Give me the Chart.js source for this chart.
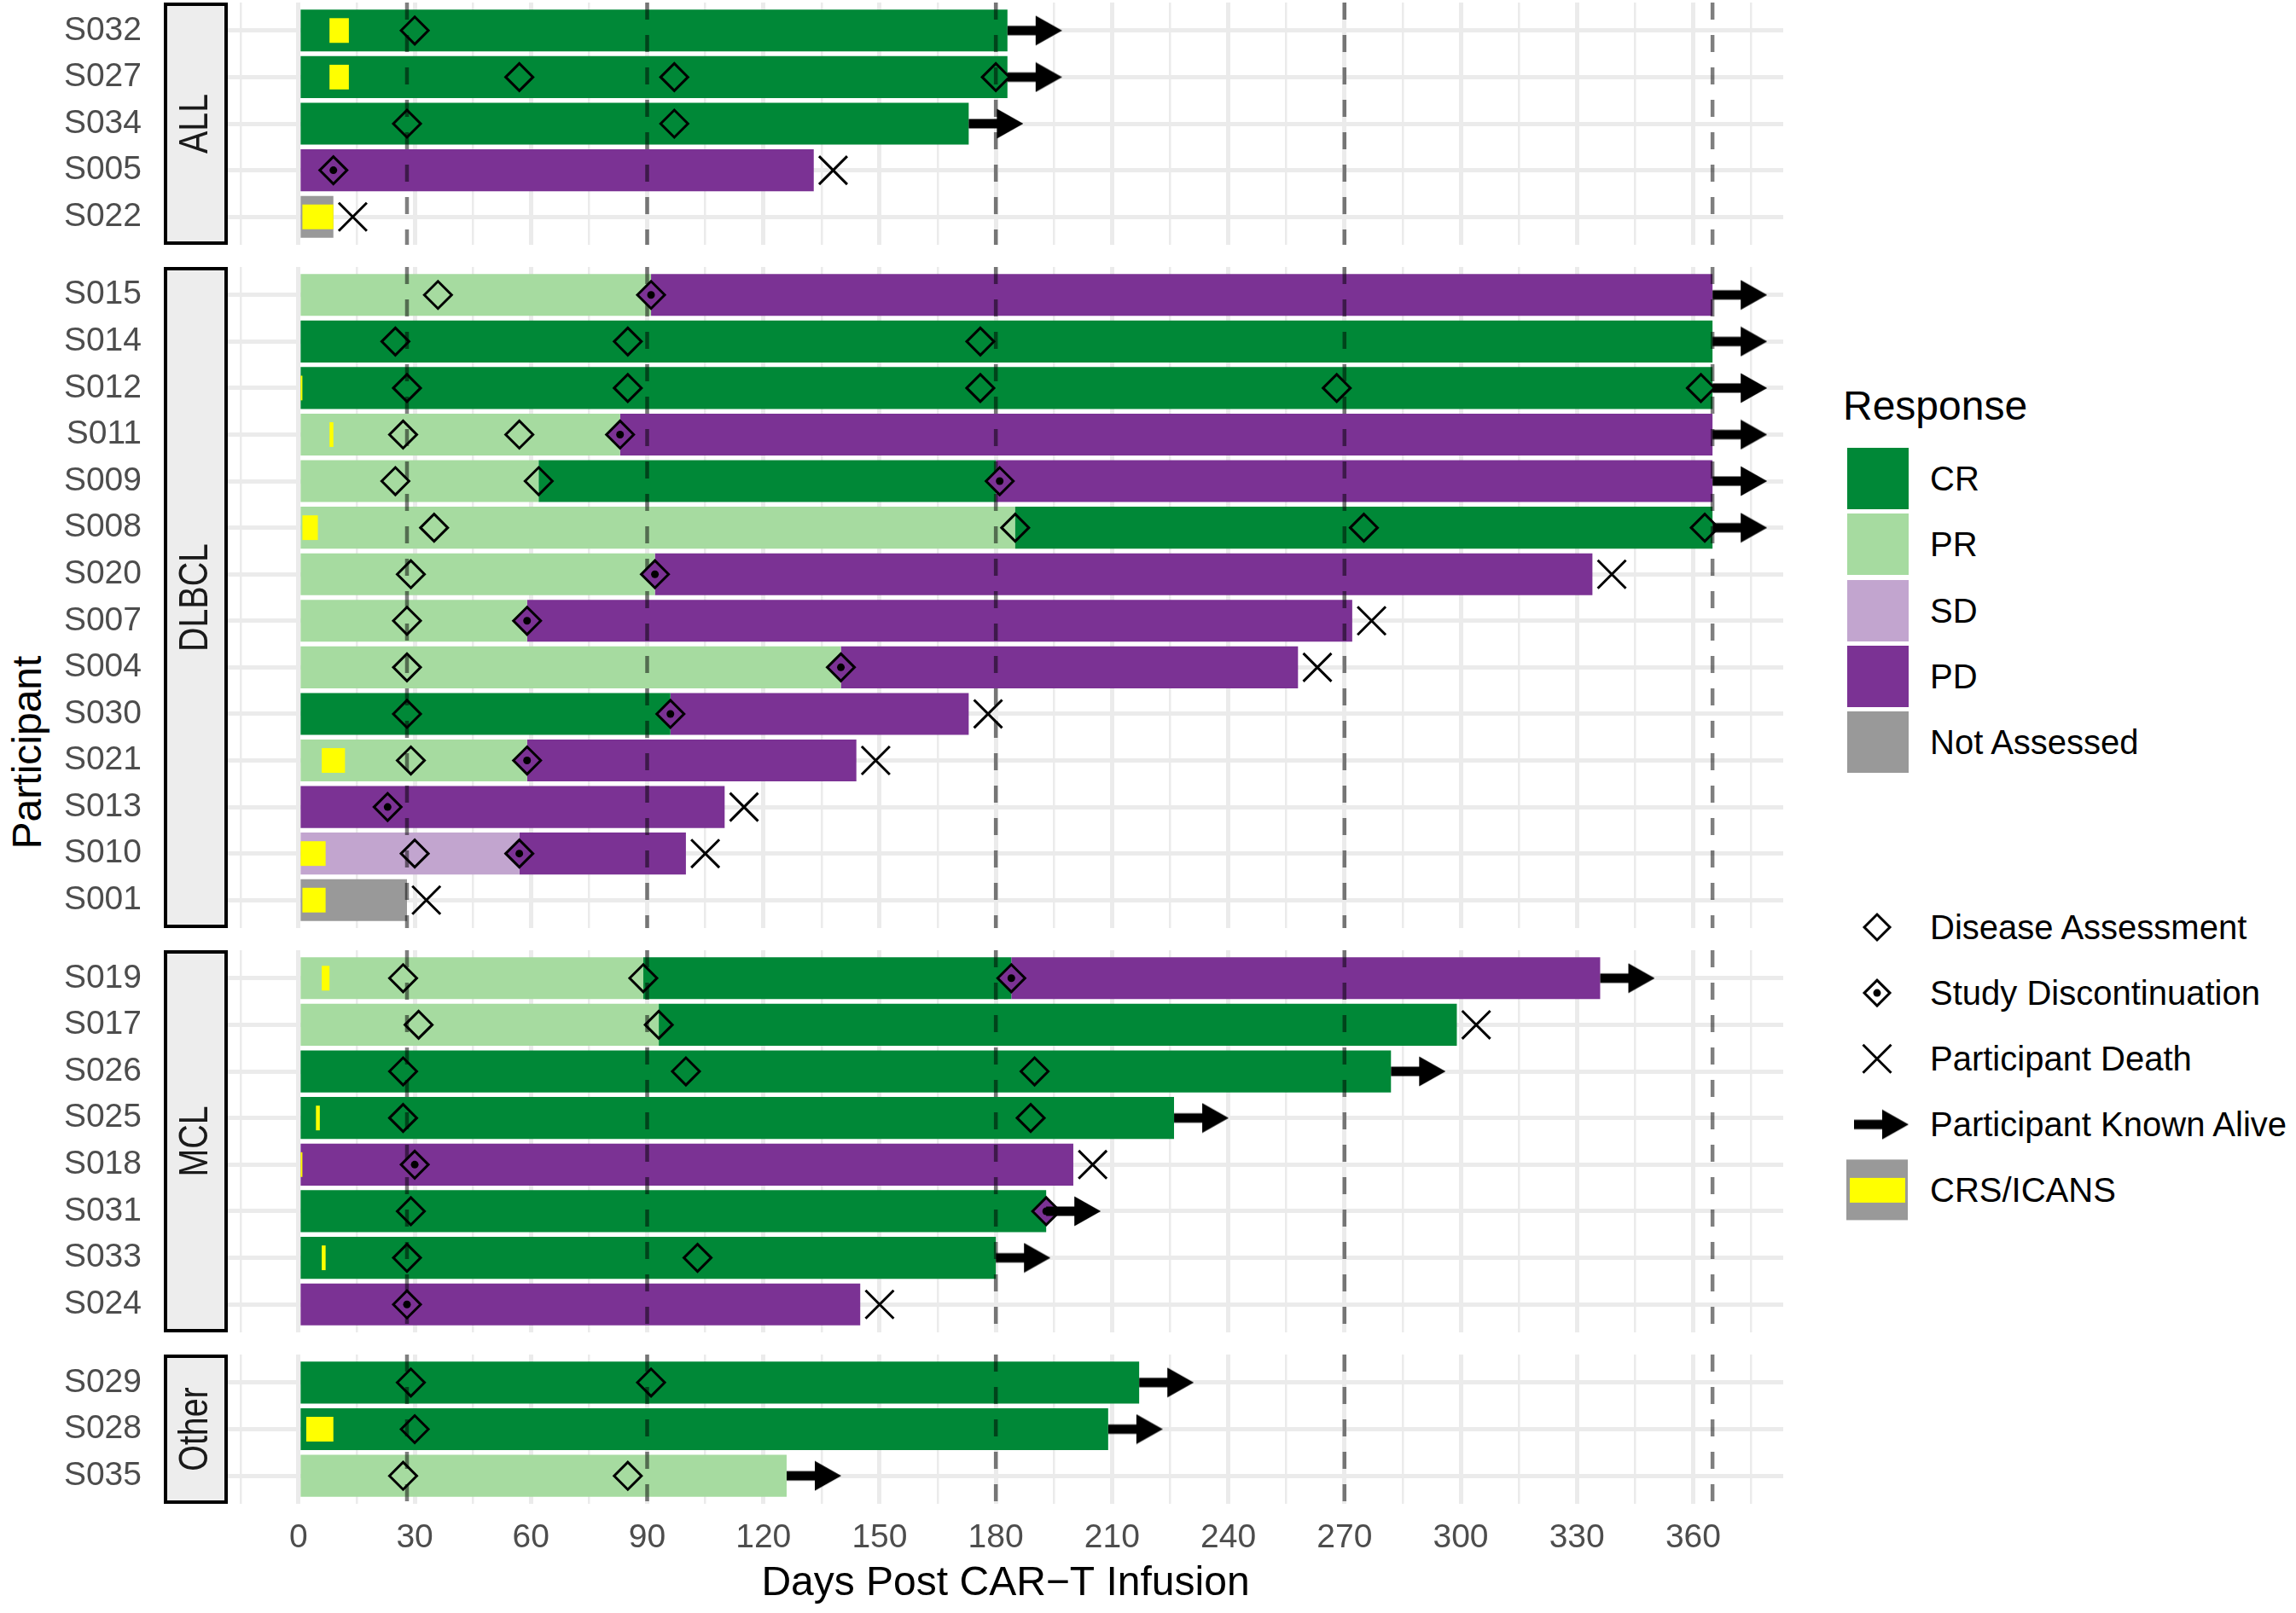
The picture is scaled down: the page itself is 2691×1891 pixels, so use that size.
<!DOCTYPE html>
<html lang="en">
<head>
<meta charset="UTF-8">
<title>Swimmer plot – days post CAR-T infusion</title>
<script src="https://cdn.jsdelivr.net/npm/chart.js"></script>
<style>
  html, body { margin: 0; padding: 0; background: #fff; }
  body {
    width: 2691px; height: 1891px; position: relative; overflow: hidden;
    font-family: 'Liberation Sans', Arial, Helvetica, sans-serif;
  }
  .panel { position: absolute; left: 0; width: 2090px; }
  .ytitle {
    position: absolute; left: -118px; top: 852px; width: 300px; height: 60px;
    line-height: 60px; text-align: center; font-size: 48px; color: #000;
    transform: rotate(-90deg); white-space: nowrap;
  }
  .lg-title { position: absolute; left: 2160px; top: 440px; height: 72px; line-height: 72px; font-size: 48px; color: #000; }
  .lg-label { position: absolute; left: 2262px; height: 72px; line-height: 72px; font-size: 40px; color: #000; white-space: nowrap; }
  #legendIcons { position: absolute; left: 2140px; top: 500px; }
</style>
</head>
<body>
<div class="ytitle">Participant</div>
<div class="lg-title">Response</div>
<canvas id="legendIcons" width="120" height="950"></canvas>

<script>
  // ---- data (days post infusion) ----
  const cohorts = ['ALL', 'DLBCL', 'MCL', 'Other'];
  const allRows = ['S032', 'S027', 'S034', 'S005', 'S022'];
  const dlbclRows = ['S015', 'S014', 'S012', 'S011', 'S009', 'S008', 'S020', 'S007', 'S004', 'S030', 'S021', 'S013', 'S010', 'S001'];
  const mclRows = ['S019', 'S017', 'S026', 'S025', 'S018', 'S031', 'S033', 'S024'];
  const otherRows = ['S029', 'S028', 'S035'];

  const responseTypes = ['CR', 'PR', 'SD', 'PD', 'Not Assessed'];
  const responseColors = ['#008837', '#A6DBA0', '#C2A5CF', '#7B3294', '#999999'];

  // [participant, start, end]
  const crSegments = [
    ['S032', 0, 183], ['S027', 0, 183], ['S034', 0, 173],
    ['S014', 0, 365], ['S012', 0, 365], ['S009', 62, 180], ['S008', 185, 365], ['S030', 0, 96],
    ['S019', 89, 184], ['S017', 93, 299], ['S026', 0, 282], ['S025', 0, 226], ['S031', 0, 193], ['S033', 0, 180],
    ['S029', 0, 217], ['S028', 0, 209]
  ];
  const prSegments = [
    ['S015', 0, 91], ['S011', 0, 83], ['S009', 0, 62], ['S008', 0, 185], ['S020', 0, 92],
    ['S007', 0, 59], ['S004', 0, 140], ['S021', 0, 59],
    ['S019', 0, 89], ['S017', 0, 93], ['S035', 0, 126]
  ];
  const sdSegments = [['S010', 0, 57]];
  const pdSegments = [
    ['S005', 0, 133],
    ['S015', 91, 365], ['S011', 83, 365], ['S009', 180, 365], ['S020', 92, 334], ['S007', 59, 272],
    ['S004', 140, 258], ['S030', 96, 173], ['S021', 59, 144], ['S013', 0, 110], ['S010', 57, 100],
    ['S019', 184, 336], ['S018', 0, 200], ['S024', 0, 145]
  ];
  const naSegments = [['S022', 0, 9], ['S001', 0, 28]];
  const crsSegments = [
    ['S032', 8, 13], ['S027', 8, 13], ['S022', 1, 9],
    ['S012', 0, 1], ['S011', 8, 9], ['S008', 1, 5], ['S021', 6, 12], ['S010', 0, 7], ['S001', 1, 7],
    ['S019', 6, 8], ['S025', 4.5, 5.5], ['S018', 0, 1], ['S033', 6, 7],
    ['S028', 2, 9]
  ];

  // [participant, day]
  const assessments = [
    ['S032', 30], ['S027', 57], ['S027', 97], ['S027', 180], ['S034', 28], ['S034', 97],
    ['S015', 36], ['S014', 25], ['S014', 85], ['S014', 176],
    ['S012', 28], ['S012', 85], ['S012', 176], ['S012', 268], ['S012', 362],
    ['S011', 27], ['S011', 57], ['S009', 25], ['S009', 62],
    ['S008', 35], ['S008', 185], ['S008', 275], ['S008', 363],
    ['S020', 29], ['S007', 28], ['S004', 28], ['S030', 28], ['S021', 29], ['S010', 30],
    ['S019', 27], ['S019', 89], ['S017', 31], ['S017', 93], ['S026', 27], ['S026', 100], ['S026', 190],
    ['S025', 27], ['S025', 189], ['S031', 29], ['S033', 28], ['S033', 103],
    ['S029', 29], ['S029', 91], ['S028', 30], ['S035', 27], ['S035', 85]
  ];
  const discontinuations = [
    ['S005', 9], ['S015', 91], ['S011', 83], ['S009', 181], ['S020', 92], ['S007', 59], ['S004', 140],
    ['S030', 96], ['S021', 59], ['S013', 23], ['S010', 57],
    ['S019', 184], ['S018', 30], ['S031', 193], ['S024', 28]
  ];
  const deaths = [
    ['S005', 138], ['S022', 14],
    ['S020', 339], ['S007', 277], ['S004', 263], ['S030', 178], ['S021', 149], ['S013', 115], ['S010', 105], ['S001', 33],
    ['S017', 304], ['S018', 205], ['S024', 150]
  ];
  const knownAlive = [
    ['S032', 183], ['S027', 183], ['S034', 173],
    ['S015', 365], ['S014', 365], ['S012', 365], ['S011', 365], ['S009', 365], ['S008', 365],
    ['S019', 336], ['S026', 282], ['S025', 226], ['S031', 193], ['S033', 180],
    ['S029', 217], ['S028', 209], ['S035', 126]
  ];

  const milestoneDays = [28, 90, 180, 270, 365];
  const dayTicks = [0, 30, 60, 90, 120, 150, 180, 210, 240, 270, 300, 330, 360];
  const markerLabels = ['Disease Assessment', 'Study Discontinuation', 'Participant Death', 'Participant Known Alive', 'CRS/ICANS'];

  // ---- layout ----
  const cohortRows = [allRows, dlbclRows, mclRows, otherRows];
  const segLists = [crSegments, prSegments, sdSegments, pdSegments, naSegments];
  const rowUnit = 54.6, panelGap = 26, axisHeight = 128, axisWidth = 267;
  const xMin = -18.25, xMax = 383.25;
  const gridDays = [];
  for (let d = -15; d <= 375; d += 15) gridDays.push(d);

  Chart.defaults.font.family = "'Liberation Sans', Arial, Helvetica, sans-serif";

  function makeArrow() {
    const c = document.createElement('canvas');
    c.width = 128; c.height = 36;
    const g = c.getContext('2d');
    g.fillStyle = '#000';
    g.fillRect(64, 12.5, 34, 11);
    g.beginPath();
    g.moveTo(97, 0.5); g.lineTo(128, 18); g.lineTo(97, 35.5);
    g.closePath(); g.fill();
    return c;
  }
  const arrowImg = makeArrow();

  function stripPlugin(label) {
    return {
      id: 'strip',
      afterDraw(chart) {
        const { ctx, chartArea } = chart;
        const x1 = chartArea.left - 2, x0 = x1 - 71;
        const t = chartArea.top + 2, h = chartArea.bottom - chartArea.top - 4;
        ctx.save();
        ctx.fillStyle = '#EDEDED';
        ctx.fillRect(x0, t, x1 - x0, h);
        ctx.strokeStyle = '#000';
        ctx.lineWidth = 4;
        ctx.strokeRect(x0, t, x1 - x0, h);
        ctx.translate((x0 + x1) / 2, (chartArea.top + chartArea.bottom) / 2);
        ctx.rotate(-Math.PI / 2);
        ctx.scale(0.82, 1);
        ctx.fillStyle = '#1A1A1A';
        ctx.font = "48px 'Liberation Sans', Arial, sans-serif";
        ctx.textAlign = 'center';
        ctx.textBaseline = 'middle';
        ctx.fillText(label, 0, 0);
        ctx.restore();
      }
    };
  }

  function buildConfig(idx, rows, last) {
    const n = rows.length;
    const mine = list => list.filter(p => rows.includes(p[0]));
    const bars = list => mine(list).map(s => ({ y: rows.indexOf(s[0]), x: [s[1], s[2]] }));
    const pts = list => mine(list).map(p => ({ x: p[1], y: rows.indexOf(p[0]) }));
    const markers = (label, list, extra) => Object.assign({
      type: 'line', label, data: pts(list), showLine: false,
      pointBackgroundColor: 'rgba(0,0,0,0)', pointBorderColor: '#000', pointBorderWidth: 3
    }, extra);

    const datasets = [];
    responseTypes.forEach((r, k) => {
      datasets.push({
        type: 'bar', label: r, data: bars(segLists[k]),
        backgroundColor: responseColors[k], borderWidth: 0,
        barPercentage: 0.9, categoryPercentage: 1, grouped: false, order: 10
      });
    });
    datasets.push({
      type: 'bar', label: 'CRS/ICANS', data: bars(crsSegments),
      backgroundColor: '#FFFF00', borderWidth: 0,
      barPercentage: 0.53, categoryPercentage: 1, grouped: false, order: 9
    });
    milestoneDays.forEach(d => {
      datasets.push({
        type: 'line', label: 'Day ' + d, data: [{ x: d, y: -0.6 }, { x: d, y: n - 0.4 }],
        borderColor: 'rgba(0,0,0,0.5)', borderWidth: 4.5, borderDash: [20, 18],
        pointRadius: 0, fill: false, order: 8
      });
    });
    datasets.push(markers('Disease Assessment', assessments, { pointStyle: 'rectRot', pointRadius: 16, order: 5 }));
    datasets.push(markers('Study Discontinuation', discontinuations, {
      pointStyle: 'rectRot', pointRadius: 16, pointBackgroundColor: '#7B3294', order: 4
    }));
    datasets.push(markers('Discontinuation dot', discontinuations, {
      pointStyle: 'circle', pointRadius: 4.5, pointBorderWidth: 0, pointBackgroundColor: '#000', order: 3
    }));
    datasets.push(markers('Participant Death', deaths, { pointStyle: 'crossRot', pointRadius: 23.3, order: 2 }));
    datasets.push(markers('Participant Known Alive', knownAlive, {
      pointStyle: arrowImg, pointRadius: 1, pointBorderWidth: 0, order: 1
    }));

    return {
      type: 'bar',
      data: { datasets },
      options: {
        indexAxis: 'y',
        responsive: true,
        maintainAspectRatio: false,
        animation: false,
        events: [],
        layout: { padding: 0, autoPadding: false },
        plugins: { legend: { display: false }, tooltip: { enabled: false } },
        scales: {
          x: {
            type: 'linear', min: xMin, max: xMax,
            afterBuildTicks: s => { s.ticks = gridDays.map(v => ({ value: v })); },
            afterFit: s => { s.height = last ? axisHeight : 0; s.paddingLeft = 0; s.paddingRight = 0; },
            ticks: {
              display: last, autoSkip: false, maxRotation: 0, minRotation: 0, padding: 17,
              color: '#4D4D4D', font: { size: 39 },
              callback: v => dayTicks.includes(v) ? String(v) : ''
            },
            grid: {
              color: '#EBEBEB', drawTicks: false,
              lineWidth: c => (c.tick && dayTicks.includes(c.tick.value)) ? 5 : 2.5
            },
            border: { display: false },
            title: {
              display: last, text: 'Days Post CAR\u2212T Infusion', color: '#000',
              font: { size: 48 }, padding: { top: 0, bottom: 5 }
            }
          },
          y: {
            type: 'linear', reverse: true, min: -0.6, max: n - 0.4, offset: false,
            afterBuildTicks: s => { s.ticks = rows.map((_, i) => ({ value: i })); },
            afterFit: s => { s.width = axisWidth; s.paddingTop = 0; s.paddingBottom = 0; },
            ticks: {
              autoSkip: false, padding: 101, color: '#4D4D4D', font: { size: 39 },
              callback: v => rows[v]
            },
            grid: { color: '#EBEBEB', lineWidth: 5, drawTicks: false, offset: false },
            border: { display: false }
          }
        }
      },
      plugins: [stripPlugin(cohorts[idx])]
    };
  }

  let panelTop = 3;
  cohortRows.forEach((rows, idx) => {
    const last = idx === cohortRows.length - 1;
    const ph = Math.round((rows.length + 0.2) * rowUnit);
    const div = document.createElement('div');
    div.className = 'panel';
    div.style.top = panelTop + 'px';
    div.style.height = (ph + (last ? axisHeight : 0)) + 'px';
    const canvas = document.createElement('canvas');
    div.appendChild(canvas);
    document.body.appendChild(div);
    new Chart(canvas, buildConfig(idx, rows, last));
    panelTop += ph + panelGap;
  });

  // ---- legend ----
  const lg = document.getElementById('legendIcons').getContext('2d');
  const ox = 2140, oy = 500;
  responseTypes.forEach((r, i) => {
    const kt = Math.round(525 + i * 77.25);
    lg.fillStyle = responseColors[i];
    lg.fillRect(2165 - ox, kt - oy, 72, 72);
    const lab = document.createElement('div');
    lab.className = 'lg-label';
    lab.style.top = kt + 'px';
    lab.textContent = r;
    document.body.appendChild(lab);
  });

  const symY = markerLabels.map((_, i) => 1087 + i * 77.1);
  const cx = 2200 - ox;
  function diamond(x, y, r) {
    lg.beginPath();
    lg.moveTo(x - r, y); lg.lineTo(x, y - r); lg.lineTo(x + r, y); lg.lineTo(x, y + r);
    lg.closePath();
  }
  lg.strokeStyle = '#000';
  lg.lineWidth = 3;
  diamond(cx, symY[0] - oy, 15); lg.stroke();
  diamond(cx, symY[1] - oy, 15); lg.stroke();
  lg.beginPath(); lg.arc(cx, symY[1] - oy, 4.5, 0, Math.PI * 2); lg.fillStyle = '#000'; lg.fill();
  lg.beginPath();
  lg.moveTo(cx - 16.5, symY[2] - oy - 16.5); lg.lineTo(cx + 16.5, symY[2] - oy + 16.5);
  lg.moveTo(cx + 16.5, symY[2] - oy - 16.5); lg.lineTo(cx - 16.5, symY[2] - oy + 16.5);
  lg.stroke();
  lg.drawImage(arrowImg, 2173 - 64 - ox, symY[3] - oy - 18);
  lg.fillStyle = '#999999';
  lg.fillRect(2164 - ox, symY[4] - oy - 36, 72, 71);
  lg.fillStyle = '#FFFF00';
  lg.fillRect(2168 - ox, symY[4] - oy - 14.5, 65, 29);

  markerLabels.forEach((m, i) => {
    const lab = document.createElement('div');
    lab.className = 'lg-label';
    lab.style.top = (symY[i] - 36) + 'px';
    lab.textContent = m;
    document.body.appendChild(lab);
  });
</script>
</body>
</html>
